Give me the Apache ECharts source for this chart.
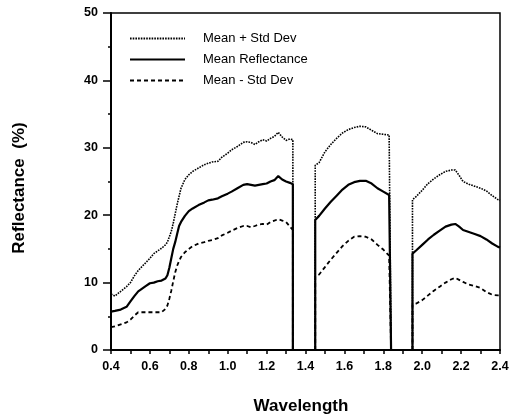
<!DOCTYPE html>
<html>
<head>
<meta charset="utf-8">
<script src="https://cdn.jsdelivr.net/npm/echarts@6/dist/echarts.min.js"></script>
<style>html,body{margin:0;padding:0;background:#fff}#c{width:514px;height:419px}</style>
</head>
<body>
<div id="c"></div>
<script>
// Wavelength samples (micrometres) for the three measured windows
const seg1W = [0.40,0.42,0.45,0.48,0.50,0.52,0.54,0.56,0.58,0.60,0.62,0.64,0.66,0.68,0.69,0.70,0.71,0.72,0.73,0.74,0.75,0.76,0.78,0.80,0.82,0.85,0.88,0.90,0.92,0.95,0.97,1.00,1.02,1.05,1.08,1.10,1.12,1.14,1.16,1.18,1.20,1.22,1.24,1.26,1.28,1.30,1.32,1.335];
const seg2W = [1.45,1.47,1.50,1.53,1.56,1.59,1.62,1.65,1.68,1.71,1.74,1.77,1.80,1.83,1.84];
const seg3W = [1.95,1.97,2.00,2.03,2.06,2.09,2.12,2.15,2.17,2.19,2.21,2.24,2.27,2.30,2.33,2.36,2.39,2.40];

// Mean + Std Dev
const upper1 = [8.3,8.0,8.7,9.4,10.0,11.0,11.8,12.4,13.0,13.6,14.3,14.7,15.1,15.6,16.0,16.8,17.6,18.8,20.2,21.6,22.8,24.0,25.3,26.0,26.5,27.0,27.5,27.7,27.9,28.0,28.6,29.2,29.7,30.2,30.8,30.9,30.8,30.5,30.9,31.2,31.0,31.4,31.7,32.3,31.6,31.1,31.3,31.2];
const upper2 = [27.4,27.8,29.4,30.5,31.4,32.2,32.7,33.0,33.2,33.1,32.6,32.1,32.0,31.9,31.9];
const upper3 = [22.3,22.8,23.7,24.7,25.4,26.0,26.5,26.7,26.7,25.9,25.0,24.6,24.3,24.0,23.6,22.9,22.3,22.2];

// Mean Reflectance
const mean1 = [5.7,5.8,6.0,6.4,7.2,8.0,8.7,9.1,9.5,9.9,10.0,10.2,10.3,10.6,11.1,12.2,13.6,15.0,16.0,17.2,18.4,19.0,19.9,20.6,21.0,21.5,21.9,22.2,22.3,22.5,22.8,23.2,23.5,24.0,24.5,24.6,24.5,24.4,24.5,24.6,24.7,25.0,25.2,25.8,25.3,25.0,24.8,24.6];
const mean2 = [19.3,19.9,21.0,22.0,22.9,23.8,24.5,24.9,25.1,25.1,24.7,24.0,23.5,23.0,22.9];
const mean3 = [14.3,14.8,15.6,16.4,17.1,17.7,18.3,18.6,18.7,18.3,17.8,17.5,17.2,16.9,16.4,15.8,15.3,15.2];

// Mean - Std Dev
const lower1 = [3.4,3.5,3.8,4.1,4.5,5.1,5.6,5.6,5.6,5.6,5.6,5.6,5.6,6.1,6.6,7.6,8.8,10.2,11.5,12.5,13.2,13.8,14.5,15.0,15.4,15.8,16.0,16.2,16.3,16.6,17.0,17.4,17.7,18.1,18.4,18.4,18.2,18.4,18.6,18.7,18.6,19.0,19.2,19.4,19.2,19.0,18.3,17.8];
const lower2 = [10.9,11.2,12.3,13.4,14.4,15.4,16.2,16.8,16.9,16.8,16.4,15.6,14.9,14.0,13.9];
const lower3 = [6.8,6.9,7.4,8.1,8.8,9.4,10.0,10.5,10.7,10.4,10.1,9.7,9.5,9.2,8.6,8.2,8.1,8.1];

const seriesNames = ['Mean + Std Dev', 'Mean Reflectance', 'Mean - Std Dev'];
const xTicks = [0.4,0.6,0.8,1.0,1.2,1.4,1.6,1.8,2.0,2.2,2.4];
const yTicks = [0,10,20,30,40,50];

function build(a, b, c) {
  const out = [];
  const segs = [[seg1W, a], [seg2W, b], [seg3W, c]];
  segs.forEach(function (s, i) {
    const w = s[0], v = s[1];
    if (i > 0) { out.push([w[0], 0]); }
    for (let k = 0; k < w.length; k++) out.push([w[k], v[k]]);
    if (i < segs.length - 1) {
      out.push([w[w.length - 1], 0]);
      out.push([w[w.length - 1] + 0.05, '-']);
    }
  });
  return out;
}

const FONT = '"Liberation Sans", Arial, Helvetica, sans-serif';
const chart = echarts.init(document.getElementById('c'), null, {renderer: 'canvas'});
chart.setOption({
  animation: false,
  backgroundColor: '#fff',
  grid: {left: 111, right: 14, top: 13, bottom: 69, outerBoundsMode: 'none', containLabel: false,
    show: true, borderColor: '#000', borderWidth: 1.5, backgroundColor: 'transparent'},
  legend: {
    orient: 'vertical', left: 124, top: 27, itemWidth: 55, itemHeight: 8, itemGap: 8,
    itemStyle: {color: 'rgba(0,0,0,0)', borderColor: 'rgba(0,0,0,0)', borderWidth: 0},
    textStyle: {fontFamily: FONT, fontSize: 13, color: '#000', padding: [0, 0, 0, 13]},
    data: seriesNames
  },
  xAxis: {
    type: 'value', min: xTicks[0], max: xTicks[xTicks.length - 1], interval: 0.2,
    name: 'Wavelength', nameLocation: 'middle', nameGap: 48,
    nameTextStyle: {fontFamily: FONT, fontSize: 17, fontWeight: 'bold', color: '#000', padding: [0, 9, 0, 0]},
    axisLine: {lineStyle: {color: '#000', width: 2}},
    axisTick: {show: true, inside: false, length: 4, lineStyle: {color: '#000', width: 1.5}},
    minorTick: {show: true, splitNumber: 2, length: 4, lineStyle: {color: '#000', width: 1.5}},
    splitLine: {show: false},
    axisLabel: {fontFamily: FONT, fontSize: 12.5, fontWeight: 'bold', color: '#000', margin: 10,
      formatter: function (v) { return v.toFixed(1); }}
  },
  yAxis: {
    type: 'value', min: yTicks[0], max: yTicks[yTicks.length - 1], interval: 10,
    name: 'Reflectance  (%)', nameLocation: 'middle', nameGap: 83, nameRotate: 90,
    nameTextStyle: {fontFamily: FONT, fontSize: 17, fontWeight: 'bold', color: '#000', padding: [0, 13, 0, 0]},
    axisLine: {show: true, lineStyle: {color: '#000', width: 2}},
    axisTick: {show: true, inside: false, length: 8, lineStyle: {color: '#000', width: 1.5}},
    minorTick: {show: true, splitNumber: 2, length: 3, lineStyle: {color: '#000', width: 1.5}},
    splitLine: {show: false},
    axisLabel: {fontFamily: FONT, fontSize: 12.5, fontWeight: 'bold', color: '#000', margin: 13}
  },
  series: [
    {name: seriesNames[0], type: 'line', data: build(upper1, upper2, upper3), showSymbol: false, symbol: 'none',
      lineStyle: {color: '#000', width: 1.6, type: [1.6, 1.1]}, itemStyle: {color: '#000'}, connectNulls: false},
    {name: seriesNames[1], type: 'line', data: build(mean1, mean2, mean3), showSymbol: false, symbol: 'none',
      lineStyle: {color: '#000', width: 2.2, type: 'solid'}, itemStyle: {color: '#000'}, connectNulls: false},
    {name: seriesNames[2], type: 'line', data: build(lower1, lower2, lower3), showSymbol: false, symbol: 'none',
      lineStyle: {color: '#000', width: 1.8, type: [4, 3]}, itemStyle: {color: '#000'}, connectNulls: false}
  ]
});
</script>
</body>
</html>
